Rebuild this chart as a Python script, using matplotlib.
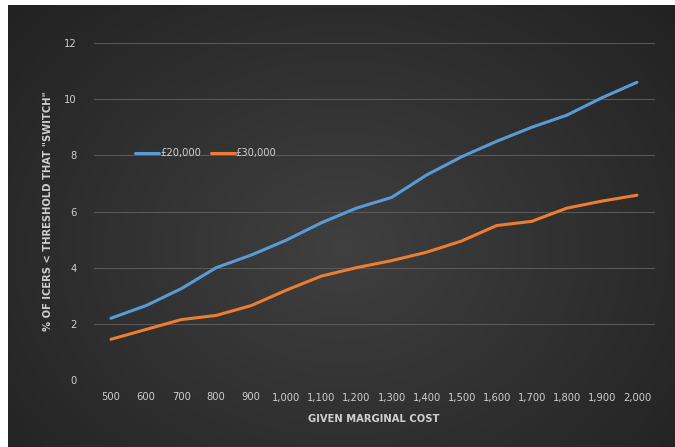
import numpy as np
import matplotlib
matplotlib.use("Agg")
import matplotlib.pyplot as plt

categories = ["500", "600", "700", "800", "900", "1,000", "1,100", "1,200", "1,300",
              "1,400", "1,500", "1,600", "1,700", "1,800", "1,900", "2,000"]
series_20k = [2.2, 2.65, 3.25, 4.0, 4.45, 4.98, 5.6, 6.12, 6.5, 7.3, 7.95, 8.5, 9.0, 9.43, 10.05, 10.6]
series_30k = [1.45, 1.8, 2.15, 2.3, 2.65, 3.2, 3.7, 4.0, 4.25, 4.55, 4.95, 5.5, 5.65, 6.12, 6.37, 6.58]
yticks = [0, 2, 4, 6, 8, 10, 12]

W, H = 675, 447
fig = plt.figure(figsize=(W / 100, H / 100), dpi=100)
fig.patch.set_facecolor("white")

# dark gradient background panel
bg = fig.add_axes([8 / W, 0, 1 - 8 / W, 1 - 5 / H])
bg.set_axis_off()
yy, xx = np.mgrid[0:1:200j, 0:1:300j]
d = np.sqrt(((xx - 0.5) / 0.75) ** 2 + ((yy - 0.55) / 0.9) ** 2)
val = 0.25 - 0.13 * np.clip(d, 0, 1)
img = np.dstack([val, val, val])
bg.imshow(img, aspect="auto", extent=[0, 1, 0, 1], interpolation="bilinear")
bg.set_xlim(0, 1)
bg.set_ylim(0, 1)

ax = fig.add_axes([93.5 / W, 1 - 380 / H, (654.5 - 93.5) / W, (380 - 43) / H])
ax.patch.set_alpha(0)
x = np.arange(len(categories))
ax.plot(x, series_20k, color="#5b9bd5", lw=2.2, label="£20,000", solid_capstyle="round")
ax.plot(x, series_30k, color="#ed7d31", lw=2.2, label="£30,000", solid_capstyle="round")
ax.set_xlim(-0.5, len(categories) - 0.5)
ax.set_ylim(0, 12)
ax.set_yticks(yticks)
ax.set_yticklabels([str(v) for v in yticks])
ax.set_xticks(x)
ax.set_xticklabels(categories)
ax.grid(axis="y", color="#585858", lw=0.8)
ax.set_axisbelow(True)
for s in ax.spines.values():
    s.set_visible(False)
ax.tick_params(length=0, colors="#cfcfcf", labelsize=7.2)
ax.tick_params(axis="y", pad=12)
ax.tick_params(axis="x", pad=9)
ax.set_xlabel("GIVEN MARGINAL COST", color="#cfcfcf", fontsize=7.2, fontweight="bold", labelpad=8)
ax.set_ylabel('% OF ICERS < THRESHOLD THAT "SWITCH"', color="#cfcfcf", fontsize=7.2,
              fontweight="bold", labelpad=8)
leg = ax.legend(loc="center left", bbox_to_anchor=(126 / W, 1 - 153 / H),
                bbox_transform=fig.transFigure, ncol=2, frameon=False, fontsize=7.2,
                handlelength=2.4, columnspacing=1.0, handletextpad=0.1)
for t in leg.get_texts():
    t.set_color("#cfcfcf")

fig.savefig("out.png", dpi=100, facecolor=fig.get_facecolor())
